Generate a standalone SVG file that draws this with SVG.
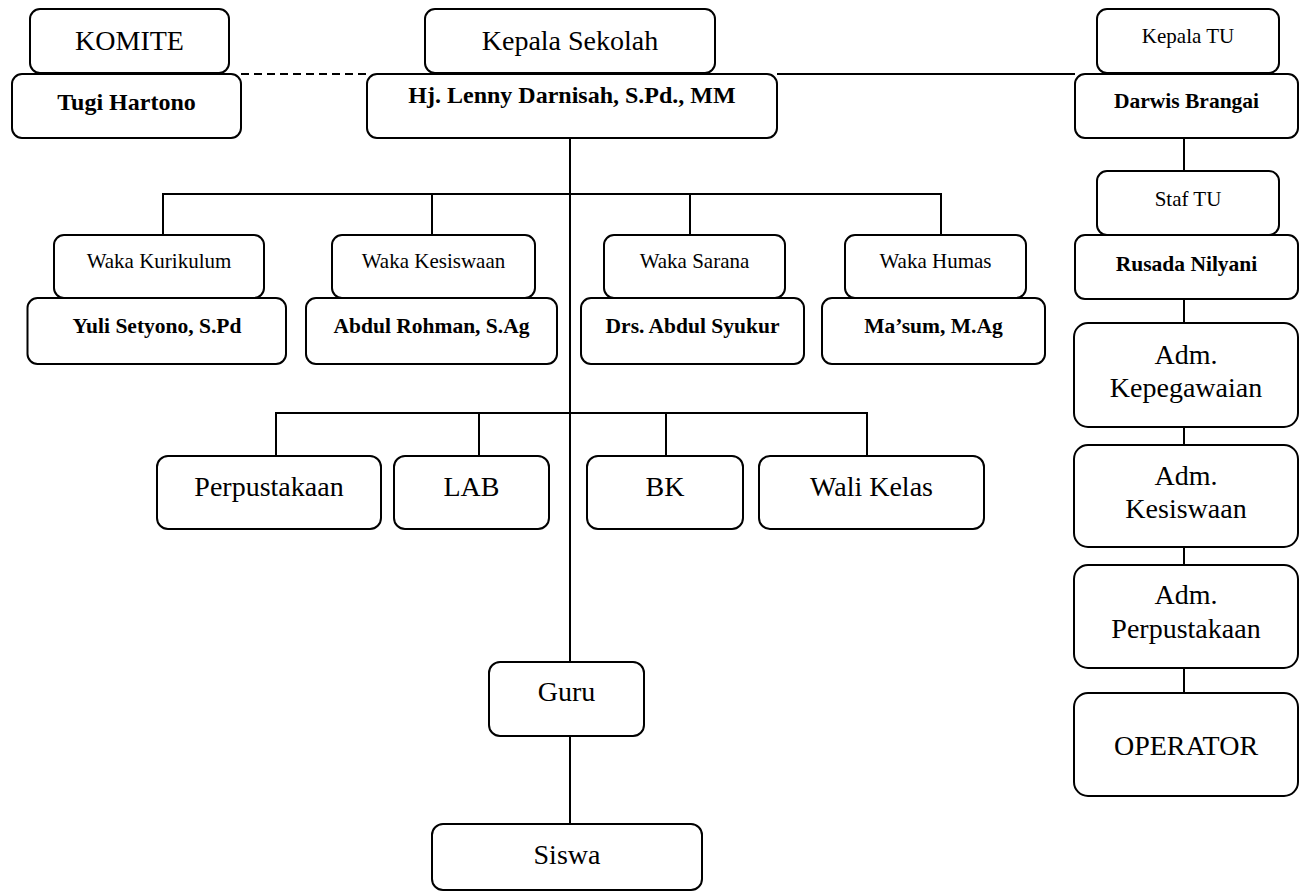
<svg xmlns="http://www.w3.org/2000/svg" width="1303" height="892" viewBox="0 0 1303 892">
<style>
rect.box{fill:#fff;stroke:#000;stroke-width:2}
text{font-family:"Liberation Serif","Times New Roman",serif;fill:#000;text-anchor:middle}
.lg{font-size:28px}
.sm{font-size:21px}
.bd{font-size:21.5px;font-weight:bold}
.bl{font-size:24px;font-weight:bold}
.ln{stroke:#000;stroke-width:2;fill:none}
.dash{stroke:#000;stroke-width:2;fill:none;stroke-dasharray:8 5}
</style>
<rect width="1303" height="892" fill="#fff"/>
<g id="connectors">
<line class="dash" x1="241" y1="74" x2="367" y2="74"/>
<line class="ln" x1="777" y1="74" x2="1075" y2="74"/>
<line class="ln" x1="570" y1="138" x2="570" y2="662"/>
<polyline class="ln" points="163,235 163,194 941,194 941,235"/>
<line class="ln" x1="432" y1="194" x2="432" y2="235"/>
<line class="ln" x1="690" y1="194" x2="690" y2="235"/>
<polyline class="ln" points="276,456 276,413 867,413 867,456"/>
<line class="ln" x1="479" y1="413" x2="479" y2="456"/>
<line class="ln" x1="666" y1="413" x2="666" y2="456"/>
<line class="ln" x1="570" y1="736" x2="570" y2="824"/>
<line class="ln" x1="1184" y1="138" x2="1184" y2="171"/>
<line class="ln" x1="1184" y1="299" x2="1184" y2="323"/>
<line class="ln" x1="1184" y1="427" x2="1184" y2="445"/>
<line class="ln" x1="1184" y1="547" x2="1184" y2="565"/>
<line class="ln" x1="1184" y1="668" x2="1184" y2="693"/>
</g>
<g id="komite"><rect class="box" x="30" y="9" width="199" height="64" rx="10"/><text class="lg" x="129.5" y="50">KOMITE</text></g>
<g id="tugi"><rect class="box" x="12" y="74" width="229" height="64" rx="10"/><text class="bl" x="126.5" y="110">Tugi Hartono</text></g>
<g id="kepsek"><rect class="box" x="425" y="9" width="290" height="64" rx="10"/><text class="lg" x="570" y="50">Kepala Sekolah</text></g>
<g id="lenny"><rect class="box" x="367" y="74" width="410" height="64" rx="10"/><text class="bl" x="572" y="103">Hj. Lenny Darnisah, S.Pd., MM</text></g>
<g id="kepalatu"><rect class="box" x="1097" y="9" width="182" height="64" rx="10"/><text class="sm" x="1188" y="43">Kepala TU</text></g>
<g id="darwis"><rect class="box" x="1075" y="74" width="223" height="64" rx="10"/><text class="bd" x="1186.5" y="108">Darwis Brangai</text></g>
<g id="staftu"><rect class="box" x="1097" y="171" width="182" height="64" rx="10"/><text class="sm" x="1188" y="206">Staf TU</text></g>
<g id="rusada"><rect class="box" x="1075" y="235" width="223" height="64" rx="10"/><text class="bd" x="1186.5" y="271">Rusada Nilyani</text></g>
<g id="waka-kurikulum"><rect class="box" x="54" y="235" width="210" height="63" rx="10"/><text class="sm" x="159" y="268">Waka Kurikulum</text></g>
<g id="yuli"><rect class="box" x="27.5" y="298" width="258.5" height="66" rx="10"/><text class="bd" x="157" y="333">Yuli Setyono, S.Pd</text></g>
<g id="waka-kesiswaan"><rect class="box" x="332" y="235" width="203" height="63" rx="10"/><text class="sm" x="433.5" y="268">Waka Kesiswaan</text></g>
<g id="abdul-rohman"><rect class="box" x="306" y="298" width="251" height="66" rx="10"/><text class="bd" x="431.5" y="333">Abdul Rohman, S.Ag</text></g>
<g id="waka-sarana"><rect class="box" x="604" y="235" width="181" height="63" rx="10"/><text class="sm" x="694.5" y="268">Waka Sarana</text></g>
<g id="abdul-syukur"><rect class="box" x="581" y="298" width="223" height="66" rx="10"/><text class="bd" x="692.5" y="333">Drs. Abdul Syukur</text></g>
<g id="waka-humas"><rect class="box" x="845" y="235" width="181" height="63" rx="10"/><text class="sm" x="935.5" y="268">Waka Humas</text></g>
<g id="masum"><rect class="box" x="822" y="298" width="223" height="66" rx="10"/><text class="bd" x="933.5" y="333">Ma’sum, M.Ag</text></g>
<g id="perpustakaan"><rect class="box" x="157" y="456" width="224" height="73" rx="11"/><text class="lg" x="269" y="496">Perpustakaan</text></g>
<g id="lab"><rect class="box" x="394" y="456" width="155" height="73" rx="11"/><text class="lg" x="471.5" y="496">LAB</text></g>
<g id="bk"><rect class="box" x="587" y="456" width="156" height="73" rx="11"/><text class="lg" x="665" y="496">BK</text></g>
<g id="wali-kelas"><rect class="box" x="759" y="456" width="225" height="73" rx="11"/><text class="lg" x="871.5" y="496">Wali Kelas</text></g>
<g id="guru"><rect class="box" x="489" y="662" width="155" height="74" rx="11"/><text class="lg" x="566.5" y="701">Guru</text></g>
<g id="siswa"><rect class="box" x="432" y="824" width="270" height="66" rx="11"/><text class="lg" x="567" y="864">Siswa</text></g>
<g id="adm-kepegawaian"><rect class="box" x="1074" y="323" width="224" height="104" rx="14"/><text class="lg" x="1186" y="364">Adm.</text><text class="lg" x="1186" y="397">Kepegawaian</text></g>
<g id="adm-kesiswaan"><rect class="box" x="1074" y="445" width="224" height="102" rx="14"/><text class="lg" x="1186" y="485">Adm.</text><text class="lg" x="1186" y="518">Kesiswaan</text></g>
<g id="adm-perpustakaan"><rect class="box" x="1074" y="565" width="224" height="103" rx="14"/><text class="lg" x="1186" y="604">Adm.</text><text class="lg" x="1186" y="638">Perpustakaan</text></g>
<g id="operator"><rect class="box" x="1074" y="693" width="224" height="103" rx="14"/><text class="lg" x="1186" y="755">OPERATOR</text></g>
</svg>
